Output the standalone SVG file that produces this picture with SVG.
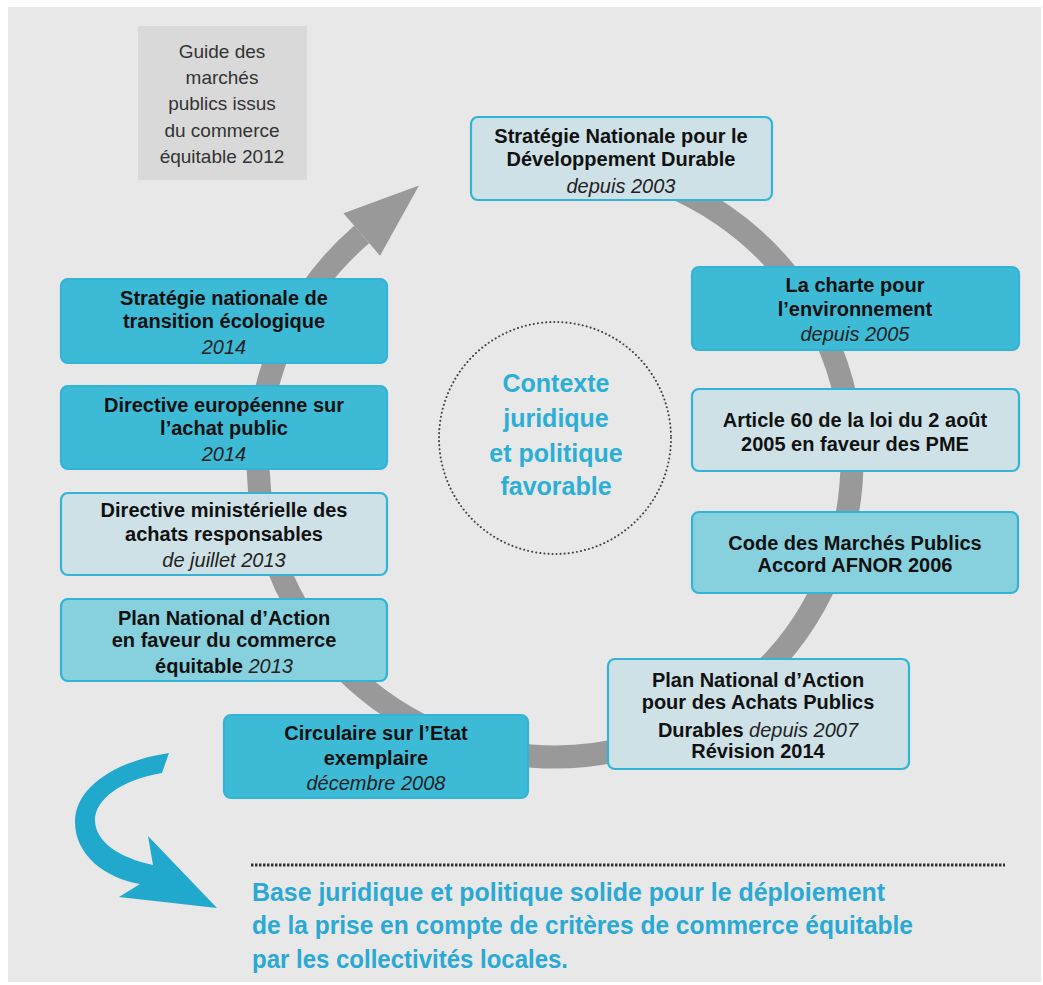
<svg xmlns="http://www.w3.org/2000/svg" width="1043" height="985" viewBox="0 0 1043 985">
<style>
.bg{fill:#e8e8e8}
.box{stroke:#33b3d6;stroke-width:2.2}
.light{fill:#cee1e7}
.mid{fill:#3dbad6}
.pale{fill:#87d0de}
.t{font-family:"Liberation Sans",Arial,sans-serif;font-size:20px;font-weight:bold;fill:#111;text-anchor:middle}
.i{font-style:italic;font-weight:normal;fill:#222}
.g{font-family:"Liberation Sans",Arial,sans-serif;font-size:19px;fill:#333;text-anchor:middle}
.c{font-family:"Liberation Sans",Arial,sans-serif;font-size:25px;font-weight:bold;fill:#2bafd6;text-anchor:middle}
.b{font-family:"Liberation Sans",Arial,sans-serif;font-size:25px;font-weight:bold;fill:#29a9d3}
</style>
<rect class="bg" x="8" y="7" width="1033" height="975"/>

<g id="connectors">
  <path d="M606.6,167.5 A297,297 0 1 1 361.7,234.5" fill="none" stroke="#999" stroke-width="23"/>
  <polygon points="343.5,213.2 419,185.5 380,255.8" fill="#999"/>
  <path d="M169,753 C120,760 75,785 75,822 C75,855 105,878 140,884 L119,897 L217,908 L148,836 L153,865 C120,858 95,842 95,820 C95,800 120,780 162,773 Z" fill="#21a8cd"/>
  <line x1="251" y1="865" x2="1005" y2="865" stroke="#333" stroke-width="3" stroke-dasharray="2.5 1.5"/>
</g>

<g id="guide">
  <rect x="138" y="26" width="169" height="154" fill="#d9d9d9"/>
  <text class="g" x="222" y="58">Guide des</text>
  <text class="g" x="222" y="84">marchés</text>
  <text class="g" x="222" y="110">publics issus</text>
  <text class="g" x="222" y="137">du commerce</text>
  <text class="g" x="222" y="163">équitable 2012</text>
</g>

<g id="centre">
  <circle cx="555" cy="438" r="116" fill="none" stroke="#444" stroke-width="2" stroke-linecap="round" stroke-dasharray="0.1 4"/>
  <text class="c" x="556" y="392">Contexte</text>
  <text class="c" x="556" y="427">juridique</text>
  <text class="c" x="556" y="462">et politique</text>
  <text class="c" x="556" y="495">favorable</text>
</g>

<g id="sndd">
  <rect class="box light" x="471" y="117" width="301" height="83" rx="7"/>
  <text class="t" x="621" y="143">Stratégie Nationale pour le</text>
  <text class="t" x="621" y="166">Développement Durable</text>
  <text class="t i" x="621" y="193">depuis 2003</text>
</g>

<g id="charte">
  <rect class="box mid" x="692" y="267" width="327" height="83" rx="7"/>
  <text class="t" x="855" y="292">La charte pour</text>
  <text class="t" x="855" y="316">l’environnement</text>
  <text class="t i" x="855" y="341">depuis 2005</text>
</g>

<g id="article60">
  <rect class="box light" x="692" y="389" width="327" height="82" rx="7"/>
  <text class="t" x="855" y="427">Article 60 de la loi du 2 août</text>
  <text class="t" x="855" y="451">2005 en faveur des PME</text>
</g>

<g id="code">
  <rect class="box pale" x="692" y="512" width="326" height="81" rx="7"/>
  <text class="t" x="855" y="550">Code des Marchés Publics</text>
  <text class="t" x="855" y="572">Accord AFNOR 2006</text>
</g>

<g id="pnaapd">
  <rect class="box light" x="608" y="659" width="301" height="110" rx="7"/>
  <text class="t" x="758" y="687">Plan National d’Action</text>
  <text class="t" x="758" y="709">pour des Achats Publics</text>
  <text class="t" x="758" y="737">Durables <tspan class="i">depuis 2007</tspan></text>
  <text class="t" x="758" y="758">Révision 2014</text>
</g>

<g id="circulaire">
  <rect class="box mid" x="224" y="715" width="304" height="83" rx="7"/>
  <text class="t" x="376" y="740">Circulaire sur l’Etat</text>
  <text class="t" x="376" y="765">exemplaire</text>
  <text class="t i" x="376" y="790">décembre 2008</text>
</g>

<g id="snte">
  <rect class="box mid" x="61" y="279" width="326" height="84" rx="7"/>
  <text class="t" x="224" y="305">Stratégie nationale de</text>
  <text class="t" x="224" y="328">transition écologique</text>
  <text class="t i" x="224" y="354">2014</text>
</g>

<g id="directive-eu">
  <rect class="box mid" x="61" y="386" width="326" height="83" rx="7"/>
  <text class="t" x="224" y="412">Directive européenne sur</text>
  <text class="t" x="224" y="435">l’achat public</text>
  <text class="t i" x="224" y="461">2014</text>
</g>

<g id="directive-min">
  <rect class="box light" x="61" y="493" width="326" height="82" rx="7"/>
  <text class="t" x="224" y="517">Directive ministérielle des</text>
  <text class="t" x="224" y="541">achats responsables</text>
  <text class="t i" x="224" y="567">de juillet 2013</text>
</g>

<g id="pnace">
  <rect class="box pale" x="61" y="599" width="326" height="82" rx="7"/>
  <text class="t" x="224" y="625">Plan National d’Action</text>
  <text class="t" x="224" y="647">en faveur du commerce</text>
  <text class="t" x="224" y="673">équitable <tspan class="i">2013</tspan></text>
</g>

<g id="conclusion">
  <text class="b" x="252" y="901" textLength="633" lengthAdjust="spacingAndGlyphs">Base juridique et politique solide pour le déploiement</text>
  <text class="b" x="252" y="934" textLength="661" lengthAdjust="spacingAndGlyphs">de la prise en compte de critères de commerce équitable</text>
  <text class="b" x="252" y="968" textLength="316" lengthAdjust="spacingAndGlyphs">par les collectivités locales.</text>
</g>
</svg>
